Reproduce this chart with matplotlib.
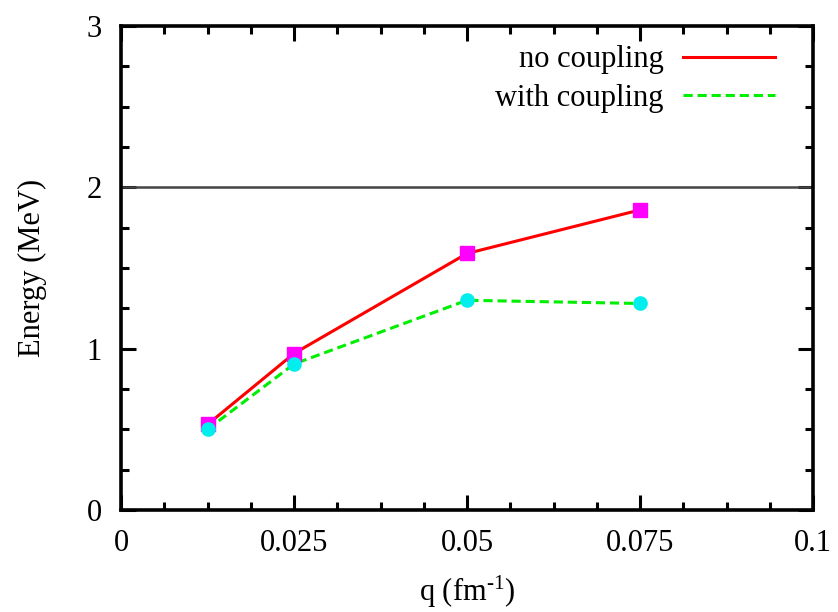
import matplotlib
matplotlib.use('Agg')
import matplotlib.pyplot as plt
from matplotlib.ticker import MultipleLocator

plt.rcParams['font.family'] = 'Liberation Serif'
plt.rcParams['mathtext.fontset'] = 'custom'
plt.rcParams['mathtext.rm'] = 'Liberation Serif'
plt.rcParams['mathtext.default'] = 'regular'

# Data
q = [0.0125, 0.025, 0.05, 0.075]
e_no_coupling = [0.53, 0.97, 1.59, 1.86]
e_with_coupling = [0.50, 0.905, 1.30, 1.28]
threshold = 2.0

fs = 22

fig = plt.figure(figsize=(8.38, 6.12), dpi=100)
ax = fig.add_axes([121 / 838, 1 - 510 / 612, (813 - 121) / 838, (510 - 26) / 612])

# Lines
ax.plot(q, e_no_coupling, color='#ff0000', lw=2.2, label='no coupling', zorder=3)
ax.plot(q, e_with_coupling, color='#00ee00', lw=2.2, ls=(0, (3, 1.6)),
        label='with coupling', zorder=3)
# Markers
ax.plot(q, e_no_coupling, ls='none', marker='s', ms=9.5, color='#ff00ff', zorder=4)
ax.plot(q, e_with_coupling, ls='none', marker='o', ms=9.5, color='#00eeee', zorder=5)

ax.axhline(threshold, color='#444444', lw=1.8, zorder=2)

ax.set_xlim(0, 0.1)
ax.set_ylim(0, 3)
ax.set_xticks([0, 0.025, 0.05, 0.075, 0.1])
ax.set_xticklabels(['0', '0.025', '0.05', '0.075', '0.1'])
ax.xaxis.set_minor_locator(MultipleLocator(0.00625))
ax.yaxis.set_major_locator(MultipleLocator(1))
ax.yaxis.set_minor_locator(MultipleLocator(0.25))
ax.tick_params(which='both', direction='in', top=True, right=True, width=2.2,
               labelsize=fs)
ax.tick_params(which='major', length=11)
ax.tick_params(which='minor', length=6)
ax.tick_params(axis='x', pad=14)
ax.tick_params(axis='y', pad=14)
for s in ax.spines.values():
    s.set_linewidth(2.6)

ax.set_xlabel(r'q (fm$^{\text{-1}}$)', fontsize=fs, labelpad=11)
ax.set_ylabel('Energy (MeV)', fontsize=fs, labelpad=28)

ax.legend(loc='upper right', bbox_to_anchor=(0.945, 0.96), frameon=False,
          markerfirst=False, fontsize=fs, handlelength=3.0, handletextpad=0.65,
          labelspacing=0.32, borderaxespad=0, borderpad=0)

plt.savefig('out.png', dpi=100)
